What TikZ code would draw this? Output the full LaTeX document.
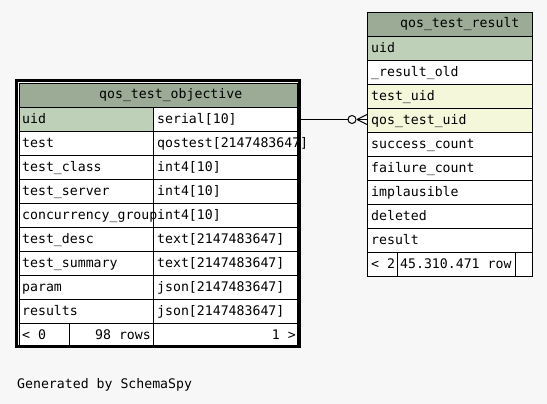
\documentclass[tikz,border=0pt]{standalone}
\usepackage{fontspec}
\usetikzlibrary{calc}
\setmonofont{DejaVu Sans Mono}
\definecolor{bgc}{HTML}{F7F7F7}
\definecolor{hdrc}{HTML}{9BAB96}
\definecolor{pkc}{HTML}{BED1B8}
\definecolor{fkc}{HTML}{F4F7DA}
\begin{document}
\begin{tikzpicture}[x=1pt,y=-1pt,
  txt/.style={font=\fontsize{13.2}{14}\selectfont\ttfamily, inner sep=0pt, anchor=base west},
  txtr/.style={txt, anchor=base east},
  grid/.style={line width=1pt, draw=black},
  thickb/.style={line width=3pt, draw=black},
  conn/.style={line width=1pt, draw=black}]
% background
\fill[bgc] (0,0) rectangle (547,404);
\useasboundingbox (0,0) rectangle (547,404);

% ===== left table: qos_test_objective =====
\fill[hdrc] (19.5,83.5) rectangle (297.5,107.5);
\fill[white] (19.5,107.5) rectangle (297.5,345.5);
\fill[pkc] (19.5,107.5) rectangle (153.5,131.5);
\node[txt] (objhead) at (99,99) {qos\_test\_objective};
\foreach \n/\t [count=\i from 0] in {uid/serial[10],test/qostest[2147483647],test\_class/int4[10],test\_server/int4[10],concurrency\_group/int4[10],test\_desc/text[2147483647],test\_summary/text[2147483647],param/json[2147483647],results/json[2147483647]}{
  \node[txt] (objn\i) at (22,107.5+24*\i+15.8) {\n};
  \node[txt] (objt\i) at (157,107.5+24*\i+15.8) {\t};
}
\node[txt] (objf1) at (22,323.5+15.5) {< 0};
\node[txtr] (objf2) at (151,323.5+15.5) {98 rows};
\node[txtr] (objf3) at (296,323.5+15.5) {1 >};
\foreach \i in {0,...,9}{
  \draw[grid] (19.5,107.5+24*\i) -- (297.5,107.5+24*\i);
}
\draw[grid] (153.5,107.5) -- (153.5,345.5);
\draw[grid] (69.5,323.5) -- (69.5,345.5);
\draw[grid] (19.5,83.5) rectangle (297.5,345.5);
\draw[thickb] (16.5,80.5) rectangle (299.5,346.5);
\coordinate (objR) at (301,119.5);

% ===== right table: qos_test_result =====
\fill[hdrc] (367.5,12.5) rectangle (532.5,36.5);
\fill[white] (367.5,36.5) rectangle (532.5,276.5);
\fill[pkc] (367.5,36.5) rectangle (532.5,60.5);
\fill[fkc] (367.5,84.5) rectangle (532.5,132.5);
\node[txt] (reshead) at (400,28) {qos\_test\_result};
\foreach \n [count=\i from 0] in {uid,\_result\_old,test\_uid,qos\_test\_uid,success\_count,failure\_count,implausible,deleted,result}{
  \node[txt] (resn\i) at (371,36.5+24*\i+15.8) {\n};
}
\node[txt] (resf1) at (371,252.5+15.5) {< 2};
\node[txt] (resf2) at (400,252.5+15.5) {45.310.471 row};
\foreach \i in {0,...,9}{
  \draw[grid] (367.5,36.5+24*\i) -- (532.5,36.5+24*\i);
}
\draw[grid] (397.5,252.5) -- (397.5,276.5);
\draw[grid] (515.5,252.5) -- (515.5,276.5);
\draw[grid] (367.5,12.5) rectangle (532.5,276.5);
\coordinate (resL) at (367,119.5);

% ===== connector =====
\coordinate (crowA) at (357,119.5);
\coordinate (circC) at (352,119.5);
\draw[conn] (objR) -- (circC);
\draw[conn] (crowA) -- (resL);
\draw[conn] (crowA) -- ($(resL)+(0,-5)$);
\draw[conn] (crowA) -- ($(resL)+(0,5)$);
\draw[conn, fill=bgc] (circC) circle (4);

% footer text
\node[txt] (gen) at (17,388) {Generated by SchemaSpy};
\end{tikzpicture}
\end{document}
